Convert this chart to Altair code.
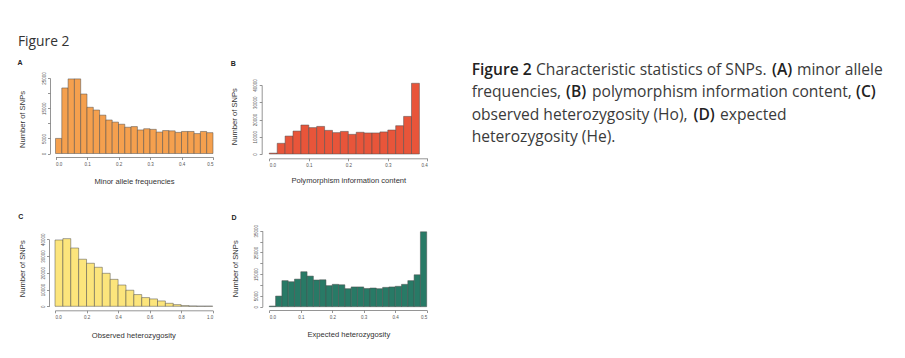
import altair as alt
import pandas as pd

# ---------------- data ----------------
# A: minor allele frequencies, bins of 0.02 over 0-0.5
maf_counts = [5000, 21700, 24700, 24700, 19700, 15300, 14400, 12700, 11100, 10400,
              9700, 8700, 8900, 7800, 8200, 8000, 7100, 7600, 7500, 7000,
              7300, 7300, 6600, 7300, 6900]
# B: polymorphism information content, bins of 0.02 over 0-0.38
pic_counts = [500, 6200, 10400, 13300, 16800, 15300, 16000, 13700, 12400, 13100,
              11400, 12600, 12200, 12200, 12800, 13900, 16400, 21800, 41000]
# C: observed heterozygosity, bins of 0.05 over 0-1
ho_counts = [39600, 40400, 34800, 28100, 25700, 23300, 19700, 16100, 12700, 9600,
             7000, 5200, 4400, 3200, 1800, 1000, 400, 200, 100, 100]
# D: expected heterozygosity, bins of 0.02 over 0-0.5
he_counts = [300, 4900, 12000, 11500, 12700, 16100, 14100, 12300, 12400, 9700,
             10300, 10100, 8300, 9100, 9100, 8400, 8600, 8300, 8900, 9100,
             9400, 10300, 12000, 14700, 34500]

bin_widths = {"A": 0.02, "B": 0.02, "C": 0.05, "D": 0.02}

x_titles = {"A": "Minor allele frequencies",
            "B": "Polymorphism information content",
            "C": "Observed heterozygosity",
            "D": "Expected heterozygosity"}
y_title = "Number of SNPs"

x_ticks = {"A": [0, 0.1, 0.2, 0.3, 0.4, 0.5],
           "B": [0, 0.1, 0.2, 0.3, 0.4],
           "C": [0, 0.2, 0.4, 0.6, 0.8, 1.0],
           "D": [0, 0.1, 0.2, 0.3, 0.4, 0.5]}
y_ticks = {"A": [0, 5000, 10000, 15000, 20000, 25000],
           "B": [0, 10000, 20000, 30000, 40000],
           "C": [0, 10000, 20000, 30000, 40000],
           "D": [0, 5000, 10000, 15000, 20000, 25000, 30000, 35000]}
y_hidden = {"A": [10000, 20000], "B": [], "C": [], "D": [10000, 20000, 30000]}

fig_label = "Figure 2"
# caption: each line as (text, bold?) segments
caption_segments = [
    [("Figure 2", True), ("Characteristic statistics of SNPs.", False), ("(A)", True),
     ("minor allele", False)],
    [("frequencies,", False), ("(B)", True), ("polymorphism information content,", False),
     ("(C)", True)],
    [("observed heterozygosity (Ho),", False), ("(D)", True), ("expected", False)],
    [("heterozygosity (He).", False)],
]
# left x of each segment (chart pixels)
caption_seg_x = [
    [463.7, 528, 764, 789],
    [463.7, 558, 584, 848],
    [463.7, 685.5, 712],
    [463.7],
]

# ---------------- layout / style ----------------
W, H = 886, 335
colors = {"A": "#F5A04E", "B": "#E8553A", "C": "#FCE57C", "D": "#287A66"}

layout = {
    "A": dict(xr=[47.5, 205], yr=[145.5, 70], yax=42, xax=149, xd=[0, 0.5], yd=[0, 25000],
              xt=(126, 24.5), yt=(-28, 111), lab=(12, 55)),
    "B": dict(xr=[261.3, 419.3], yr=[146, 77], yax=253.7, xax=150.3, xd=[0, 0.4], yd=[0, 40000],
              xt=(340.3, 22), yt=(-27, 108.2), lab=(225.3, 56)),
    "C": dict(xr=[47, 204.7], yr=[298.3, 231.3], yax=41, xax=302.3, xd=[0, 1], yd=[0, 40000],
              xt=(125.3, 25), yt=(-26.3, 260.3), lab=(12.7, 208.7)),
    "D": dict(xr=[261.3, 418.7], yr=[298.7, 222.7], yax=254.3, xax=302, xd=[0, 0.5], yd=[0, 35000],
              xt=(340.3, 24.5), yt=(-27, 260.3), lab=(226, 210.3)),
}

counts = {"A": maf_counts, "B": pic_counts, "C": ho_counts, "D": he_counts}

axis_style = dict(grid=False, domainColor="#7a7a7a", tickColor="#7a7a7a",
                  domainWidth=0.8, tickWidth=0.8, tickSize=2.5,
                  labelFont="Liberation Sans", labelFontSize=4.5, labelColor="#555555",
                  titleFont="Liberation Sans", titleFontSize=7.6, titleFontWeight="normal",
                  titleColor="#333333", labelOverlap=False)

layers = []
for key in ["A", "B", "C", "D"]:
    L = layout[key]
    w = bin_widths[key]
    vals = counts[key]
    df = pd.DataFrame({
        "x0": [i * w for i in range(len(vals))],
        "x1": [(i + 1) * w for i in range(len(vals))],
        "n": vals,
    })
    hidden = y_hidden[key]
    if hidden:
        cond = " || ".join(f"datum.value == {h}" for h in hidden)
        yexpr = f"({cond}) ? '' : datum.label"
    else:
        yexpr = "datum.label"
    xaxis = alt.Axis(orient="bottom", offset=L["xax"] - H, values=x_ticks[key], format=".1f",
                     title=x_titles[key], titleX=L["xt"][0], titleY=L["xt"][1],
                     titleAlign="center", titleBaseline="middle", labelPadding=1.5,
                     **axis_style)
    yaxis = alt.Axis(orient="left", offset=-L["yax"], values=y_ticks[key], format="d",
                     labelExpr=yexpr, labelAngle=270, labelAlign="center", labelBaseline="bottom",
                     labelPadding=1.5, title=y_title, titleX=L["yt"][0], titleY=L["yt"][1],
                     titleAngle=270, titleAlign="center", titleBaseline="middle",
                     **axis_style)
    bars = alt.Chart(df).mark_rect(fill=colors[key], stroke="#4d4d4d", strokeWidth=0.5).encode(
        x=alt.X("x0:Q", scale=alt.Scale(domain=L["xd"], range=L["xr"], nice=False, zero=False),
                axis=xaxis),
        x2="x1:Q",
        y=alt.Y("n:Q", scale=alt.Scale(domain=L["yd"], range=L["yr"], nice=False), axis=yaxis),
        y2=alt.datum(0),
    )
    layers.append(bars)
    lab = alt.Chart(pd.DataFrame({"t": [key]})).mark_text(
        font="Liberation Sans", fontSize=7, fontWeight="bold", color="#222222",
        align="center", baseline="middle").encode(
        text="t:N", x=alt.value(L["lab"][0]), y=alt.value(L["lab"][1]))
    layers.append(lab)

fig_text = alt.Chart(pd.DataFrame({"t": [fig_label]})).mark_text(
    font="Open Sans", fontSize=13.8, color="#333333", align="left", baseline="middle").encode(
    text="t:N", x=alt.value(10), y=alt.value(34))
layers.append(fig_text)

for i, segs in enumerate(caption_segments):
    for (txt, bold), sx in zip(segs, caption_seg_x[i]):
        t = alt.Chart(pd.DataFrame({"t": [txt]})).mark_text(
            font="Open Sans", fontSize=15.6, color="#222222" if bold else "#3a3a3a",
            fontWeight=600 if bold else "normal",
            align="left", baseline="middle").encode(
            text="t:N", x=alt.value(sx), y=alt.value(62 + 22.4 * i))
        layers.append(t)

chart = alt.layer(*layers).resolve_scale(x="independent", y="independent").properties(
    width=W, height=H, padding=0,
    autosize=alt.AutoSizeParams(type="none"),
).configure_view(stroke=None)

chart.save("out.html", embed_options={"renderer": "svg", "actions": False})
